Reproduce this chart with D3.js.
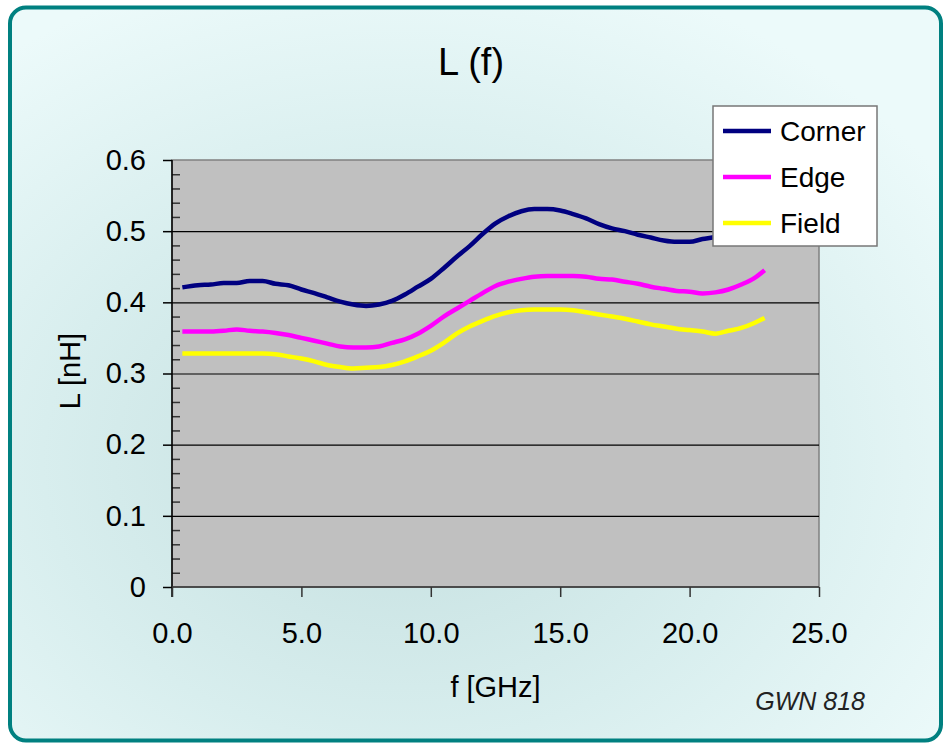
<!DOCTYPE html>
<html>
<head>
<meta charset="utf-8">
<script src="https://cdn.jsdelivr.net/npm/d3@7"></script>
<style>
  body { margin: 0; background: #fff; }
  text { font-family: "Liberation Sans", Arial, sans-serif; }
</style>
</head>
<body>
<div id="chart"></div>
<script>
// data
var freqs  = [0.4, 1, 1.5, 2, 2.5, 3, 3.5, 4, 4.5, 5, 5.5, 6, 6.5, 7, 7.5, 8, 8.5, 9, 9.5, 10,
              10.5, 11, 11.5, 12, 12.5, 13, 13.5, 14, 14.5, 15, 15.5, 16, 16.5, 17, 17.5, 18,
              18.5, 19, 19.5, 20, 20.5, 21, 21.5, 22, 22.5, 22.9];
var corner = [0.421, 0.424, 0.425, 0.427, 0.427, 0.430, 0.430, 0.426, 0.424, 0.418, 0.413, 0.407,
              0.401, 0.397, 0.395, 0.397, 0.402, 0.411, 0.422, 0.433, 0.448, 0.464, 0.479, 0.496,
              0.511, 0.521, 0.528, 0.531, 0.531, 0.529, 0.524, 0.518, 0.510, 0.504, 0.500, 0.495,
              0.491, 0.487, 0.485, 0.485, 0.489, 0.492, 0.498, 0.508, 0.518, 0.527];
var edge   = [0.359, 0.359, 0.359, 0.360, 0.362, 0.360, 0.359, 0.357, 0.354, 0.350, 0.346, 0.342,
              0.338, 0.3365, 0.3365, 0.338, 0.343, 0.348, 0.356, 0.367, 0.380, 0.391, 0.402, 0.413,
              0.423, 0.429, 0.433, 0.436, 0.437, 0.437, 0.437, 0.436, 0.433, 0.432, 0.429, 0.426,
              0.422, 0.419, 0.416, 0.415, 0.4125, 0.414, 0.418, 0.425, 0.434, 0.445];
var field  = [0.328, 0.328, 0.328, 0.328, 0.328, 0.328, 0.328, 0.327, 0.324, 0.321, 0.317, 0.312,
              0.309, 0.307, 0.308, 0.309, 0.312, 0.317, 0.324, 0.332, 0.343, 0.356, 0.366, 0.374,
              0.381, 0.386, 0.389, 0.390, 0.390, 0.390, 0.389, 0.386, 0.383, 0.380, 0.377, 0.373,
              0.369, 0.366, 0.363, 0.361, 0.359, 0.356, 0.360, 0.364, 0.371, 0.378];
var seriesNames  = ["Corner", "Edge", "Field"];
var seriesColors = ["#000080", "#ff00ff", "#ffff00"];
var xTicks = [0, 5, 10, 15, 20, 25];
var yTicks = [0, 0.1, 0.2, 0.3, 0.4, 0.5, 0.6];

var W = 943, H = 743;
var plot = {left: 172, right: 819, top: 160, bottom: 587};

var svg = d3.select("#chart").append("svg")
    .attr("width", W)
    .attr("height", H);

// background gradient + teal frame
var defs = svg.append("defs");
var grad = defs.append("radialGradient")
    .attr("id", "bg")
    .attr("cx", "42%").attr("cy", "62%").attr("r", "70%");
grad.append("stop").attr("offset", "0%").attr("stop-color", "#c4dfdf");
grad.append("stop").attr("offset", "55%").attr("stop-color", "#d8eeee");
grad.append("stop").attr("offset", "100%").attr("stop-color", "#ecfafa");

svg.append("rect")
    .attr("x", 10).attr("y", 7.5)
    .attr("width", 931).attr("height", 733)
    .attr("rx", 16).attr("ry", 16)
    .style("fill", "url(#bg)")
    .style("stroke", "#008080")
    .style("stroke-width", 4);

// scales
var x = d3.scaleLinear().domain([0, 25]).range([plot.left, plot.right]);
var y = d3.scaleLinear().domain([0, 0.6]).range([plot.bottom, plot.top]);

// plot area
svg.append("rect")
    .attr("x", plot.left).attr("y", plot.top)
    .attr("width", plot.right - plot.left)
    .attr("height", plot.bottom - plot.top)
    .style("fill", "#c0c0c0")
    .style("stroke", "#808080")
    .style("stroke-width", 1.5);

// gridlines
svg.append("g")
    .attr("transform", "translate(" + plot.left + ",0)")
    .call(d3.axisLeft(y)
            .tickValues([0.1, 0.2, 0.3, 0.4, 0.5])
            .tickSize(-(plot.right - plot.left))
            .tickFormat(""))
    .call(function(g) {
      g.select(".domain").remove();
      g.selectAll("line").style("stroke", "#000").style("stroke-width", 1.2);
    });

// minor y ticks (inside)
var minor = d3.range(1, 30).filter(function(i) { return i % 5 != 0; })
              .map(function(i) { return i * 0.02; });
svg.append("g")
    .attr("transform", "translate(" + plot.left + ",0)")
    .call(d3.axisRight(y).tickValues(minor).tickSize(8).tickFormat(""))
    .call(function(g) {
      g.select(".domain").remove();
      g.selectAll("line").style("stroke", "#333").style("stroke-width", 1.5);
    });

// y axis
svg.append("g")
    .attr("transform", "translate(" + plot.left + ",0)")
    .call(d3.axisLeft(y)
            .tickValues(yTicks)
            .tickSize(9)
            .tickPadding(17)
            .tickFormat(function(d) { return d == 0 ? "0" : d3.format(".1f")(d); }))
    .call(function(g) {
      g.select(".domain").attr("d", "M0," + plot.top + "V" + (plot.bottom + 10))
        .style("stroke", "#000").style("stroke-width", 1.5);
      g.selectAll("line").style("stroke", "#000").style("stroke-width", 1.5);
      g.selectAll("text").style("font-size", "29px").style("fill", "#000")
        .attr("font-family", null);
    });

// x axis
svg.append("g")
    .attr("transform", "translate(0," + plot.bottom + ")")
    .call(d3.axisBottom(x)
            .tickValues(xTicks)
            .tickSize(10)
            .tickPadding(25)
            .tickFormat(d3.format(".1f")))
    .call(function(g) {
      g.select(".domain").attr("d", "M" + plot.left + ",0H" + plot.right)
        .style("stroke", "#333").style("stroke-width", 1.5);
      g.selectAll("line").style("stroke", "#333").style("stroke-width", 1.5);
      g.selectAll("text").style("font-size", "29px").style("fill", "#000")
        .attr("font-family", null);
    });

// lines
var allSeries = [corner, edge, field];
var line = d3.line()
    .x(function(d, i) { return x(freqs[i]); })
    .y(function(d) { return y(d); })
    .curve(d3.curveMonotoneX);

svg.selectAll(".series")
    .data(allSeries)
  .enter().append("path")
    .attr("class", "series")
    .attr("d", line)
    .style("fill", "none")
    .style("stroke", function(d, i) { return seriesColors[i]; })
    .style("stroke-width", 4.5)
    .style("stroke-linejoin", "round");

// legend
var legend = svg.append("g").attr("transform", "translate(713,106)");
legend.append("rect")
    .attr("width", 164).attr("height", 140)
    .style("fill", "#fff")
    .style("stroke", "#777")
    .style("stroke-width", 1.5);
seriesNames.forEach(function(name, i) {
  var ly = 25 + i * 46;
  legend.append("line")
      .attr("x1", 10).attr("x2", 58)
      .attr("y1", ly).attr("y2", ly)
      .style("stroke", seriesColors[i])
      .style("stroke-width", 4.5);
  legend.append("text")
      .attr("x", 67).attr("y", ly + 10)
      .style("font-size", "28px")
      .text(name);
});

// titles
svg.append("text")
    .attr("x", 471).attr("y", 75)
    .attr("text-anchor", "middle")
    .style("font-size", "38px")
    .text("L (f)");

svg.append("text")
    .attr("x", (plot.left + plot.right) / 2).attr("y", 697)
    .attr("text-anchor", "middle")
    .style("font-size", "29px")
    .text("f [GHz]");

svg.append("text")
    .attr("transform", "translate(80,371) rotate(-90)")
    .attr("text-anchor", "middle")
    .style("font-size", "29px")
    .text("L [nH]");

svg.append("text")
    .attr("x", 865).attr("y", 710)
    .attr("text-anchor", "end")
    .style("font-size", "25px")
    .style("font-style", "italic")
    .style("fill", "#222")
    .text("GWN 818");
</script>
</body>
</html>
